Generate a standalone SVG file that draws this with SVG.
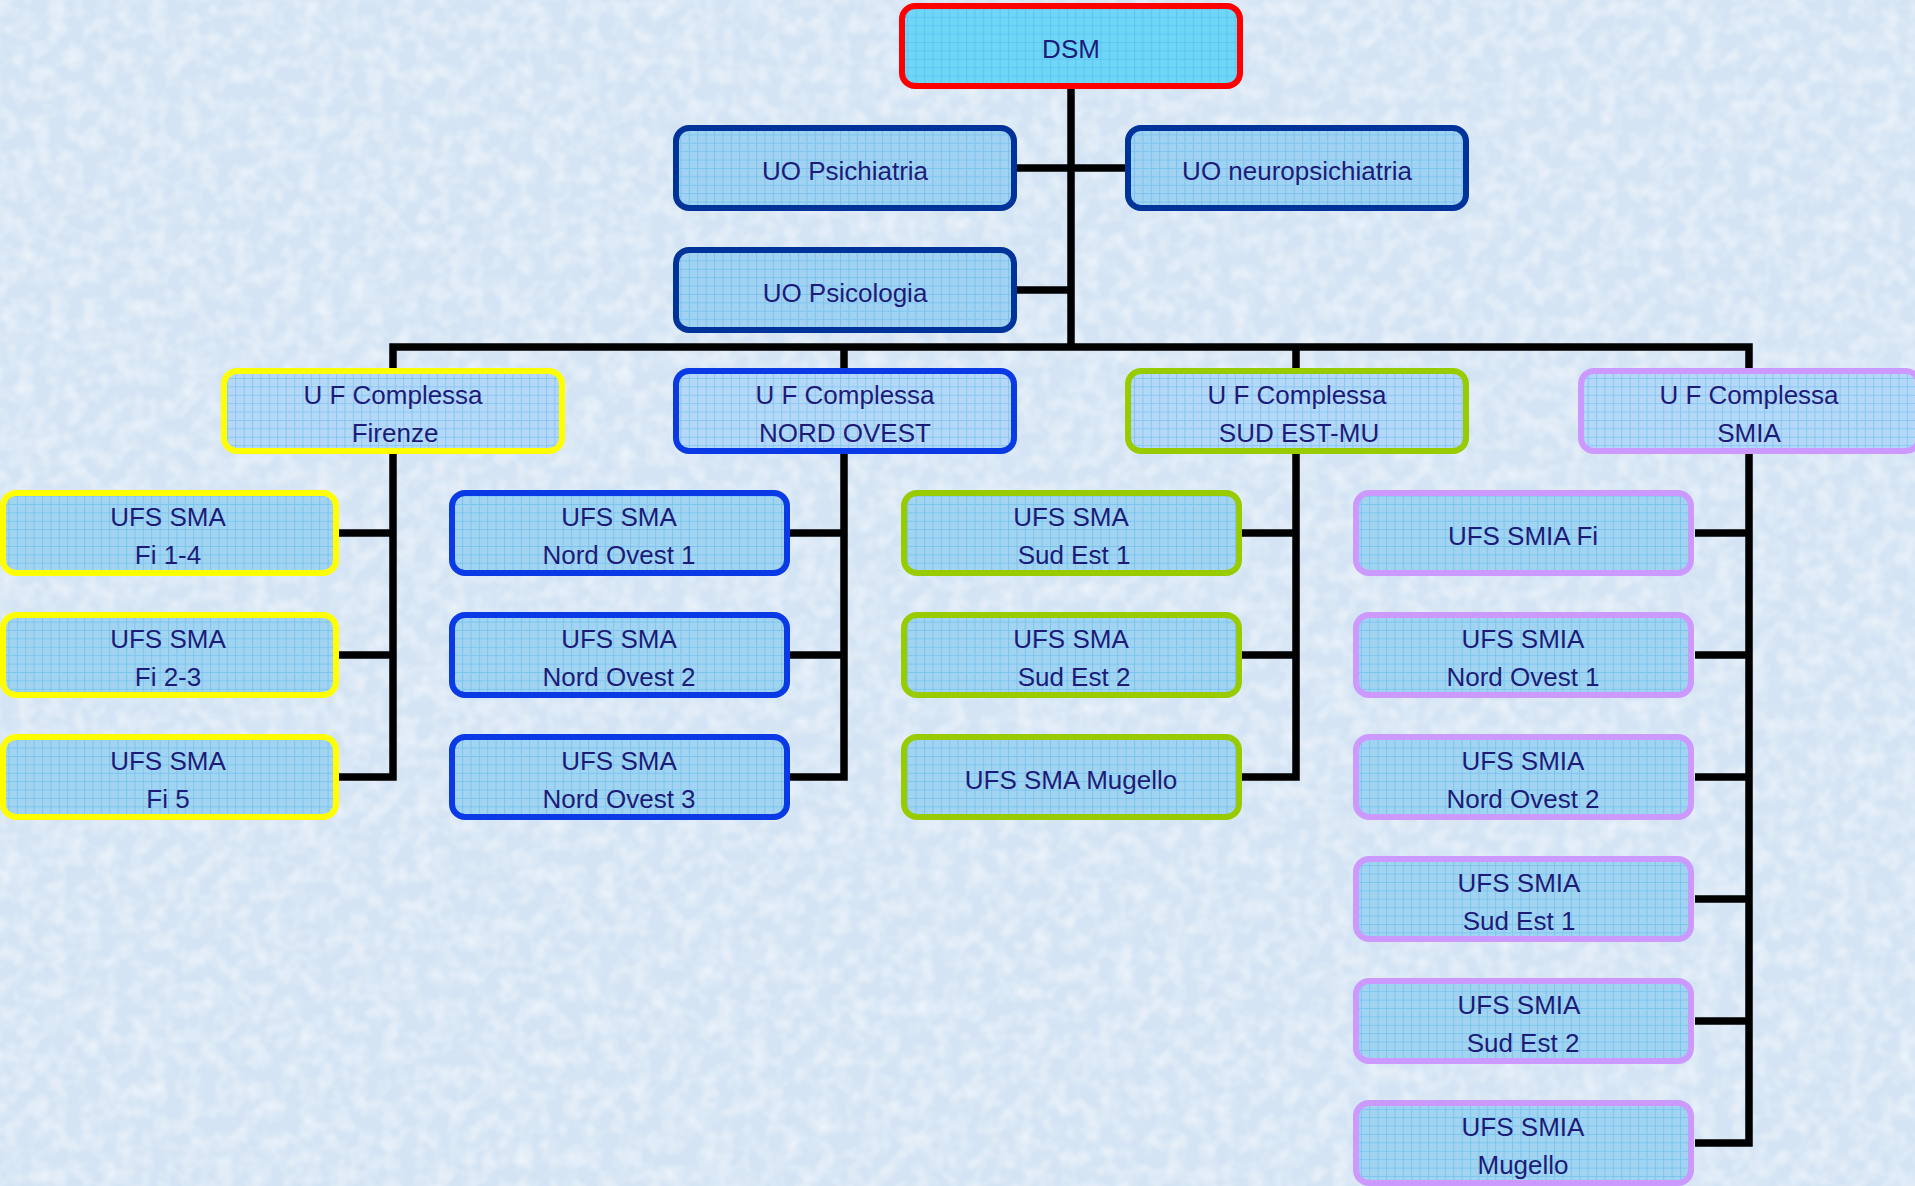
<svg xmlns="http://www.w3.org/2000/svg" width="1915" height="1186" viewBox="0 0 1915 1186">
<defs>
<style>
.bg{fill:#d4e4f4}
.lbl{font-family:"Liberation Sans",Arial,Helvetica,sans-serif;font-size:26px;fill:#1c1c78;text-anchor:middle}
.base{stroke:none}
.frame{fill:url(#grid);stroke-width:6}
.f-dsm{fill:#6fd6f8}
.f-uo{fill:#a2d2f2}
.f-uf{fill:#b6d8f8}
.f-ch{fill:#a2d4f2}
.s-red{stroke:#ff0000}
.s-dark{stroke:#003399}
.s-yel{stroke:#ffff00}
.s-blue{stroke:#0a3ae6}
.s-grn{stroke:#99cc00}
.s-vio{stroke:#cc99ff}
.conn{fill:none;stroke:#000;stroke-width:7.5;stroke-linejoin:miter}
</style>
<pattern id="grid" width="8.4" height="8.4" patternUnits="userSpaceOnUse">
<path d="M0,0.5H8.4M0.5,0V8.4" stroke="#3fb0e8" stroke-opacity="0.4" stroke-width="1" fill="none"/>
</pattern>
<filter id="tex" x="0" y="0" width="100%" height="100%">
<feTurbulence type="fractalNoise" baseFrequency="0.06" numOctaves="2" seed="4"/>
<feColorMatrix type="matrix" values="0 0 0 0 1  0 0 0 0 1  0 0 0 0 1  1.4 0 0 0 -0.5"/>
</filter>
</defs>
<rect class="bg" x="0" y="0" width="1915" height="1186"/>
<rect x="0" y="0" width="1915" height="1186" filter="url(#tex)" opacity="0.7"/>

<g id="connectors">
<path class="conn" d="M1071,88V347"/>
<path class="conn" d="M1017,168H1125"/>
<path class="conn" d="M1017,290H1071"/>
<path class="conn" d="M339,777H393V347H1749V1143H1695"/>
<path class="conn" d="M844,347V777H790"/>
<path class="conn" d="M1296,347V777H1240"/>
<path class="conn" d="M339,533H393M339,655H393"/>
<path class="conn" d="M790,533H844M790,655H844"/>
<path class="conn" d="M1240,533H1296M1240,655H1296"/>
<path class="conn" d="M1695,533H1749M1695,655H1749M1695,777H1749M1695,899H1749M1695,1021H1749"/>
</g>

<g id="n-dsm">
<rect class="base f-dsm" x="902" y="6" width="338" height="80" rx="13"/>
<rect class="frame s-red" x="902" y="6" width="338" height="80" rx="13"/>
<text class="lbl" x="1071" y="58">DSM</text>
</g>
<g id="n-uo-psichiatria">
<rect class="base f-uo" x="676" y="128" width="338" height="80" rx="13"/>
<rect class="frame s-dark" x="676" y="128" width="338" height="80" rx="13"/>
<text class="lbl" x="845" y="180">UO Psichiatria</text>
</g>
<g id="n-uo-neuro">
<rect class="base f-uo" x="1128" y="128" width="338" height="80" rx="13"/>
<rect class="frame s-dark" x="1128" y="128" width="338" height="80" rx="13"/>
<text class="lbl" x="1297" y="180">UO neuropsichiatria</text>
</g>
<g id="n-uo-psicologia">
<rect class="base f-uo" x="676" y="250" width="338" height="80" rx="13"/>
<rect class="frame s-dark" x="676" y="250" width="338" height="80" rx="13"/>
<text class="lbl" x="845" y="302">UO Psicologia</text>
</g>

<g id="n-uf-firenze">
<rect class="base f-uf" x="224" y="371" width="338" height="80" rx="13"/>
<rect class="frame s-yel" x="224" y="371" width="338" height="80" rx="13"/>
<text class="lbl" x="393" y="404">U F Complessa</text>
<text class="lbl" x="395" y="442">Firenze</text>
</g>
<g id="n-uf-nordovest">
<rect class="base f-uf" x="676" y="371" width="338" height="80" rx="13"/>
<rect class="frame s-blue" x="676" y="371" width="338" height="80" rx="13"/>
<text class="lbl" x="845" y="404">U F Complessa</text>
<text class="lbl" x="845" y="442">NORD OVEST</text>
</g>
<g id="n-uf-sudest">
<rect class="base f-uf" x="1128" y="371" width="338" height="80" rx="13"/>
<rect class="frame s-grn" x="1128" y="371" width="338" height="80" rx="13"/>
<text class="lbl" x="1297" y="404">U F Complessa</text>
<text class="lbl" x="1299" y="442">SUD EST-MU</text>
</g>
<g id="n-uf-smia">
<rect class="base f-uf" x="1581" y="371" width="338" height="80" rx="13"/>
<rect class="frame s-vio" x="1581" y="371" width="338" height="80" rx="13"/>
<text class="lbl" x="1749" y="404">U F Complessa</text>
<text class="lbl" x="1749" y="442">SMIA</text>
</g>

<g id="n-fi14">
<rect class="base f-ch" x="3" y="493" width="333" height="80" rx="13"/>
<rect class="frame s-yel" x="3" y="493" width="333" height="80" rx="13"/>
<text class="lbl" x="168" y="526">UFS SMA</text>
<text class="lbl" x="168" y="564">Fi 1-4</text>
</g>
<g id="n-fi23">
<rect class="base f-ch" x="3" y="615" width="333" height="80" rx="13"/>
<rect class="frame s-yel" x="3" y="615" width="333" height="80" rx="13"/>
<text class="lbl" x="168" y="648">UFS SMA</text>
<text class="lbl" x="168" y="686">Fi 2-3</text>
</g>
<g id="n-fi5">
<rect class="base f-ch" x="3" y="737" width="333" height="80" rx="13"/>
<rect class="frame s-yel" x="3" y="737" width="333" height="80" rx="13"/>
<text class="lbl" x="168" y="770">UFS SMA</text>
<text class="lbl" x="168" y="808">Fi 5</text>
</g>

<g id="n-no1">
<rect class="base f-ch" x="452" y="493" width="335" height="80" rx="13"/>
<rect class="frame s-blue" x="452" y="493" width="335" height="80" rx="13"/>
<text class="lbl" x="619" y="526">UFS SMA</text>
<text class="lbl" x="619" y="564">Nord Ovest 1</text>
</g>
<g id="n-no2">
<rect class="base f-ch" x="452" y="615" width="335" height="80" rx="13"/>
<rect class="frame s-blue" x="452" y="615" width="335" height="80" rx="13"/>
<text class="lbl" x="619" y="648">UFS SMA</text>
<text class="lbl" x="619" y="686">Nord Ovest 2</text>
</g>
<g id="n-no3">
<rect class="base f-ch" x="452" y="737" width="335" height="80" rx="13"/>
<rect class="frame s-blue" x="452" y="737" width="335" height="80" rx="13"/>
<text class="lbl" x="619" y="770">UFS SMA</text>
<text class="lbl" x="619" y="808">Nord Ovest 3</text>
</g>

<g id="n-se1">
<rect class="base f-ch" x="904" y="493" width="335" height="80" rx="13"/>
<rect class="frame s-grn" x="904" y="493" width="335" height="80" rx="13"/>
<text class="lbl" x="1071" y="526">UFS SMA</text>
<text class="lbl" x="1074" y="564">Sud Est 1</text>
</g>
<g id="n-se2">
<rect class="base f-ch" x="904" y="615" width="335" height="80" rx="13"/>
<rect class="frame s-grn" x="904" y="615" width="335" height="80" rx="13"/>
<text class="lbl" x="1071" y="648">UFS SMA</text>
<text class="lbl" x="1074" y="686">Sud Est 2</text>
</g>
<g id="n-mugello">
<rect class="base f-ch" x="904" y="737" width="335" height="80" rx="13"/>
<rect class="frame s-grn" x="904" y="737" width="335" height="80" rx="13"/>
<text class="lbl" x="1071" y="789">UFS SMA Mugello</text>
</g>

<g id="n-smia-fi">
<rect class="base f-ch" x="1356" y="493" width="335" height="80" rx="13"/>
<rect class="frame s-vio" x="1356" y="493" width="335" height="80" rx="13"/>
<text class="lbl" x="1523" y="545">UFS SMIA Fi</text>
</g>
<g id="n-smia-no1">
<rect class="base f-ch" x="1356" y="615" width="335" height="80" rx="13"/>
<rect class="frame s-vio" x="1356" y="615" width="335" height="80" rx="13"/>
<text class="lbl" x="1523" y="648">UFS SMIA</text>
<text class="lbl" x="1523" y="686">Nord Ovest 1</text>
</g>
<g id="n-smia-no2">
<rect class="base f-ch" x="1356" y="737" width="335" height="80" rx="13"/>
<rect class="frame s-vio" x="1356" y="737" width="335" height="80" rx="13"/>
<text class="lbl" x="1523" y="770">UFS SMIA</text>
<text class="lbl" x="1523" y="808">Nord Ovest 2</text>
</g>
<g id="n-smia-se1">
<rect class="base f-ch" x="1356" y="859" width="335" height="80" rx="13"/>
<rect class="frame s-vio" x="1356" y="859" width="335" height="80" rx="13"/>
<text class="lbl" x="1519" y="892">UFS SMIA</text>
<text class="lbl" x="1519" y="930">Sud Est 1</text>
</g>
<g id="n-smia-se2">
<rect class="base f-ch" x="1356" y="981" width="335" height="80" rx="13"/>
<rect class="frame s-vio" x="1356" y="981" width="335" height="80" rx="13"/>
<text class="lbl" x="1519" y="1014">UFS SMIA</text>
<text class="lbl" x="1523" y="1052">Sud Est 2</text>
</g>
<g id="n-smia-mugello">
<rect class="base f-ch" x="1356" y="1103" width="335" height="80" rx="13"/>
<rect class="frame s-vio" x="1356" y="1103" width="335" height="80" rx="13"/>
<text class="lbl" x="1523" y="1136">UFS SMIA</text>
<text class="lbl" x="1523" y="1174">Mugello</text>
</g>
</svg>
